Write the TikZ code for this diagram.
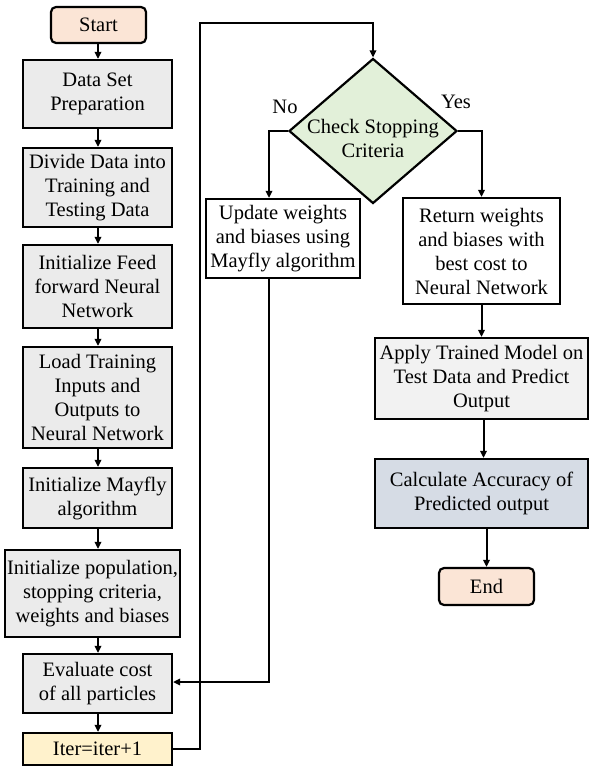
\documentclass[tikz,border=0pt]{standalone}
\usepackage{fontspec}
\setmainfont{Liberation Serif}
\usetikzlibrary{shapes.geometric,arrows.meta}
\definecolor{peach}{HTML}{FBE5D6}
\definecolor{boxgray}{HTML}{EBEBEB}
\definecolor{lightgray}{HTML}{F2F2F2}
\definecolor{iterfill}{HTML}{FFF2CC}
\definecolor{decfill}{HTML}{E2F0D9}
\definecolor{calcfill}{HTML}{D6DCE5}
\tikzset{
  base/.style={draw=black, line width=2.2pt, inner sep=1pt, align=center,
    font=\fontsize{20.5}{24}\selectfont},
  procbox/.style={base, fill=boxgray},
  termbox/.style={base, fill=peach, rounded corners=5pt},
  decision/.style={draw=black, line width=2.2pt, diamond, fill=decfill, inner sep=0pt},
  arr/.style={line width=2pt, -{Triangle[length=7pt,width=6.5pt]}},
  lbl/.style={font=\fontsize{20.5}{24}\selectfont, inner sep=0pt},
}
\begin{document}
\begin{tikzpicture}[x=1pt,y=1pt]
\useasboundingbox (0,0) rectangle (590,-767);

% left column
\node[termbox, minimum width=95pt, minimum height=36pt] (start) at (98.5,-25) {Start};
\node[procbox, minimum width=149pt, minimum height=68pt] (dsp) at (97.5,-94) {Data Set\\Preparation};
\node[procbox, minimum width=149pt, minimum height=79pt] (div) at (97.5,-187.5) {Divide Data into\\Training and\\Testing Data};
\node[procbox, minimum width=149pt, minimum height=83pt] (iff) at (97.5,-286.5) {Initialize Feed\\forward Neural\\Network};
\node[procbox, minimum width=149pt, minimum height=101pt] (load) at (97.5,-397.5) {Load Training\\Inputs and\\Outputs to\\Neural Network};
\node[procbox, minimum width=149pt, minimum height=60pt] (imf) at (97.5,-498) {Initialize Mayfly\\algorithm};
\node[procbox, minimum width=175pt, minimum height=87pt] (ipop) at (92.5,-593.5) {Initialize population,\\stopping criteria,\\weights and biases};
\node[procbox, minimum width=149pt, minimum height=59pt] (eval) at (97.5,-683.5) {Evaluate cost\\of all particles};
\node[base, fill=iterfill, minimum width=149pt, minimum height=32pt] (iter) at (97.5,-749) {Iter=iter+1};

% decision and right-hand branches
\node[decision, minimum width=168pt, minimum height=145pt] (chk) at (373,-131) {};
\node[lbl, align=center] (chktext) at (373,-138) {Check Stopping\\Criteria};
\node[lbl] (no) at (285,-107) {No};
\node[lbl] (yes) at (456,-102) {Yes};

\node[base, fill=white, minimum width=154pt, minimum height=79pt] (upd) at (283,-238.5) {Update weights\\and biases using\\Mayfly algorithm};
\node[base, fill=white, minimum width=157pt, minimum height=106pt] (ret) at (481.5,-251) {Return weights\\and biases with\\best cost to\\Neural Network};
\node[base, fill=lightgray, minimum width=213pt, minimum height=81pt] (apply) at (481.5,-378.5) {Apply Trained Model on\\Test Data and Predict\\Output};
\node[base, fill=calcfill, minimum width=213pt, minimum height=69pt] (calc) at (481.5,-493.5) {Calculate Accuracy of\\Predicted output};
\node[termbox, minimum width=95pt, minimum height=37pt] (end) at (486.5,-586.5) {End};

\coordinate (loopcorner) at (200,-23);

% connectors, left column
\foreach \a/\b in {start/dsp, dsp/div, div/iff, iff/load, load/imf, imf/ipop, ipop/eval, eval/iter}
  \draw[arr] (\a.south -| 98,0) -- (\b.north -| 98,0);

% loop back to the decision
\draw[arr] (iter.east) -| (loopcorner) -| (chk.north);

% no branch
\draw[arr] (chk.west) -| ([xshift=-14pt]upd.north);
\draw[arr] ([xshift=-14pt]upd.south) |- ([yshift=1.5pt]eval.east);

% yes branch
\draw[arr] (chk.east) -| (ret.north);
\draw[arr] (ret.south) -- (apply.north -| ret.south);
\draw[arr] ([xshift=2pt]apply.south) -- ([xshift=2pt]calc.north);
\draw[arr] ([xshift=5pt]calc.south) -- (end.north);
\end{tikzpicture}
\end{document}
